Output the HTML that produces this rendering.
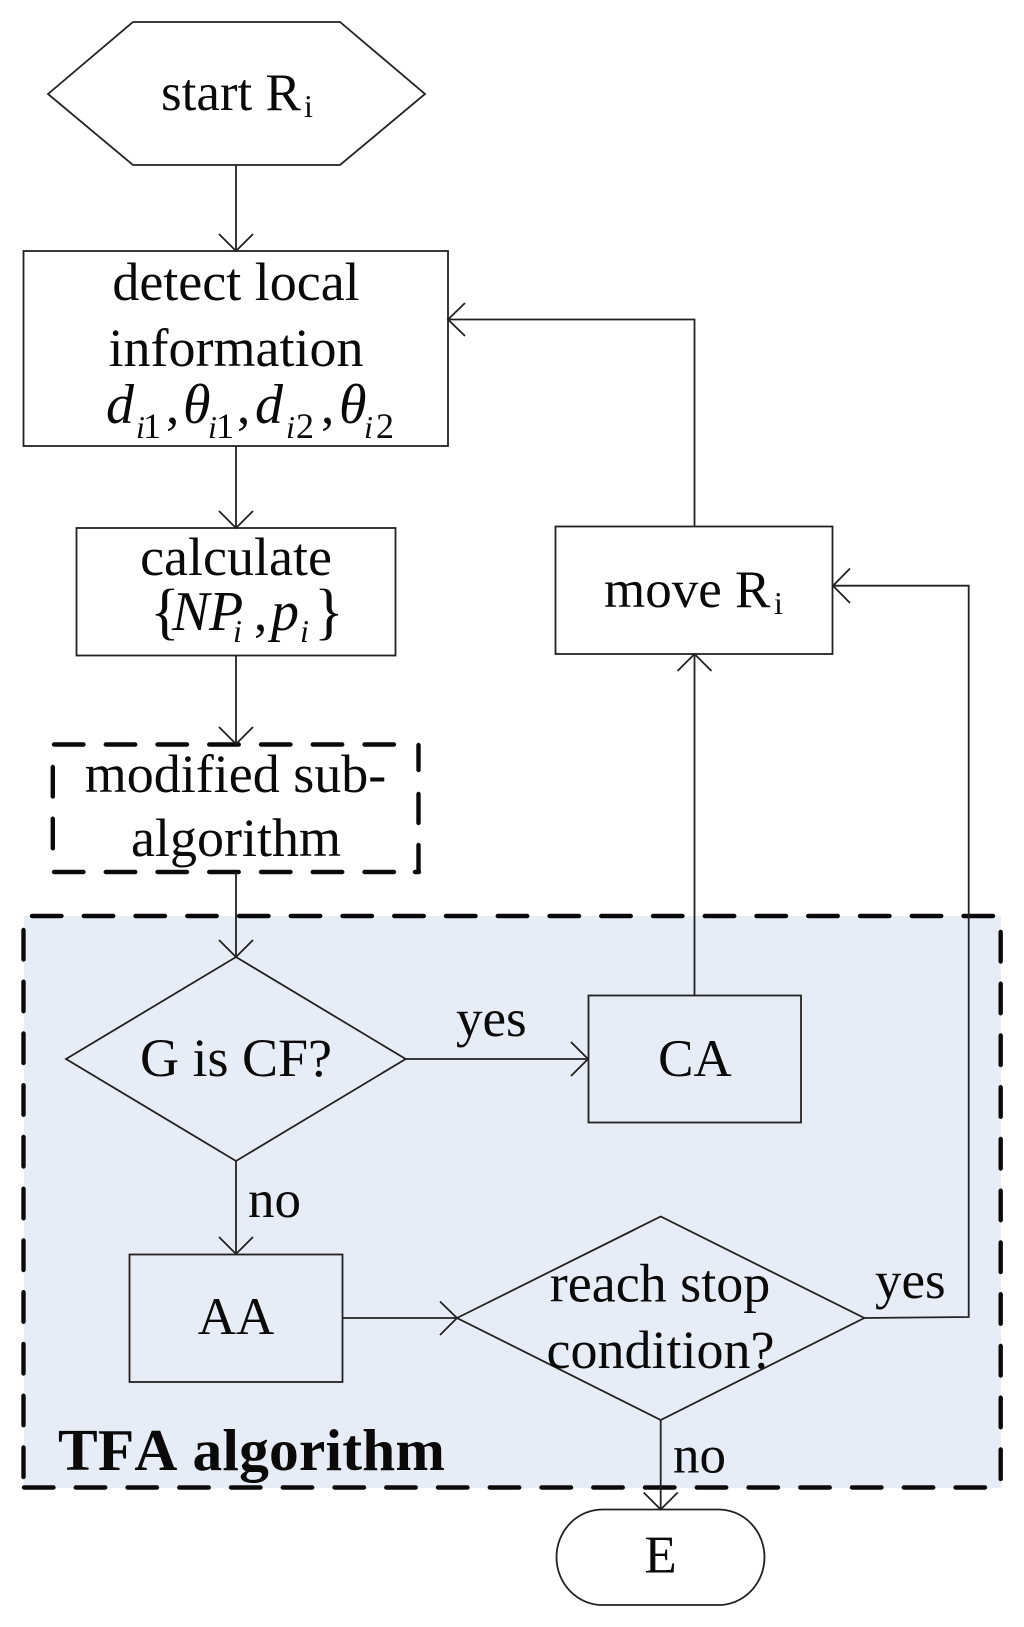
<!DOCTYPE html>
<html><head><meta charset="utf-8">
<style>
html,body{margin:0;padding:0;background:#fff;}
svg{display:block;}
text{font-family:"Liberation Serif",serif;font-size:54px;fill:#0a0a0a;font-kerning:none;}
.n{font-size:53px;}
.m{font-size:56px;}
.s{font-size:32px;}
.g{font-size:36px;}
.i{font-style:italic;}
.l{fill:none;stroke:#222;stroke-width:1.8;}
.d{fill:none;stroke:#0a0a0a;stroke-width:4.4;stroke-linecap:round;stroke-dasharray:29.5 22.25;}
.v{fill:none;stroke:#0a0a0a;stroke-width:4.4;stroke-linecap:round;}
</style></head><body>
<svg width="1024" height="1627" viewBox="0 0 1024 1627" xmlns="http://www.w3.org/2000/svg">
<rect width="1024" height="1627" fill="#fff"/>
<rect x="24" y="916" width="977" height="572" fill="#e7edf7"/>

<!-- big dashed -->
<path class="d" d="M32 916H998"/>
<path class="d" d="M1000.7 932V1484"/>
<path class="d" d="M23.5 930V1480"/>
<path class="d" d="M24 1487.5H990"/>
<!-- small dashed -->
<path class="d" d="M54 744.5H396"/>
<path class="v" d="M418.500 745V770M418.500 794V823M418.500 845V871"/>
<path class="d" d="M52.8 767V850"/>
<path class="d" d="M54 872H396"/>
<path class="v" d="M415 872H419"/>

<!-- shapes -->
<path class="l" d="M48 94L133 22H340L425 94L340 165H133Z"/>
<rect class="l" x="23.5" y="251" width="424.5" height="195"/>
<rect class="l" x="76.5" y="528" width="319" height="127.5"/>
<rect class="l" x="555.5" y="526.5" width="277" height="127.5"/>
<path class="l" d="M66 1059L236 957L405.700 1059L236 1161Z"/>
<rect class="l" x="588.5" y="995.5" width="212.500" height="127"/>
<rect class="l" x="129.500" y="1254.500" width="213" height="127.500"/>
<path class="l" d="M457 1318L660.700 1216.500L864.300 1318L660.700 1420Z"/>
<rect class="l" x="556.500" y="1509.500" width="208" height="95.500" rx="46" ry="47.700"/>

<!-- connectors -->
<path class="l" d="M236 165V251M219 234L236 251L253 234"/>
<path class="l" d="M236 446V528M219 511L236 528L253 511"/>
<path class="l" d="M236 655V744M219 727L236 744L253 727"/>
<path class="l" d="M236 872V957M219 940L236 957L253 940"/>
<path class="l" d="M236 1161V1254M219 1237L236 1254L253 1237"/>
<path class="l" d="M406 1059H588M571 1042L588 1059L571 1076"/>
<path class="l" d="M342 1318H457M440 1301.500L457 1318L440 1335"/>
<path class="l" d="M694.500 995V654M677.500 671L694.500 654L711.500 671"/>
<path class="l" d="M694.500 526V319.500H448M465 303L448 319.500L465 336"/>
<path class="l" d="M864 1318L968.700 1317V585.700H833M850 568.500L833 585.700L850 603"/>
<path class="l" d="M660.700 1420V1509.500M643.700 1492.500L660.700 1509.500L677.700 1492.500"/>

<!-- labels -->
<text class="n" x="161" y="110">start R</text><text class="s" x="304" y="117">i</text>
<text x="236" y="300" text-anchor="middle">detect local</text>
<text x="236" y="366" text-anchor="middle">information</text>

<text class="m i" x="106" y="423">d</text><text class="s i" x="136" y="438">i</text><text class="g" x="143" y="438">1</text>
<text class="n" x="166" y="423">,</text>
<text class="m i" x="183" y="423">θ</text><text class="s i" x="208" y="438">i</text><text class="g" x="216" y="438">1</text>
<text class="n" x="237" y="423">,</text>
<text class="m i" x="255" y="423">d</text><text class="s i" x="286" y="438">i</text><text class="g" x="296" y="438">2</text>
<text class="n" x="321" y="423">,</text>
<text class="m i" x="339" y="423">θ</text><text class="s i" x="364" y="438">i</text><text class="g" x="376" y="438">2</text>

<text x="236" y="575" text-anchor="middle">calculate</text>
<text style="font-size:62px" x="150" y="632">{</text><text class="m i" x="172" y="630">N</text><text class="m i" x="209" y="630">P</text><text class="s i" x="233" y="642">i</text>
<text class="n" x="254" y="630">,</text><text class="m i" x="271" y="630">p</text><text class="s i" x="300" y="642">i</text><text style="font-size:62px" x="314" y="632">}</text>

<text x="235.500" y="792" text-anchor="middle">modified sub-</text>
<text x="236" y="856" text-anchor="middle">algorithm</text>

<text x="236" y="1076" text-anchor="middle">G is CF?</text>
<text class="n" x="456" y="1036">yes</text>
<text class="n" x="248" y="1217">no</text>
<text class="n" x="236" y="1334" text-anchor="middle">AA</text>
<text class="n" x="695" y="1076" text-anchor="middle">CA</text>
<text x="660" y="1301.500" text-anchor="middle">reach stop</text>
<text x="660.500" y="1368" text-anchor="middle">condition?</text>
<text class="n" x="875" y="1298">yes</text>
<text class="n" x="673" y="1472.500">no</text>
<text class="n" x="660.500" y="1572.500" text-anchor="middle">E</text>
<text class="n" x="604" y="607">move R</text><text class="s" x="774" y="614">i</text>
<text x="58" y="1470" font-weight="bold" style="font-size:59.500px" textLength="387">TFA algorithm</text>
</svg>
</body></html>
